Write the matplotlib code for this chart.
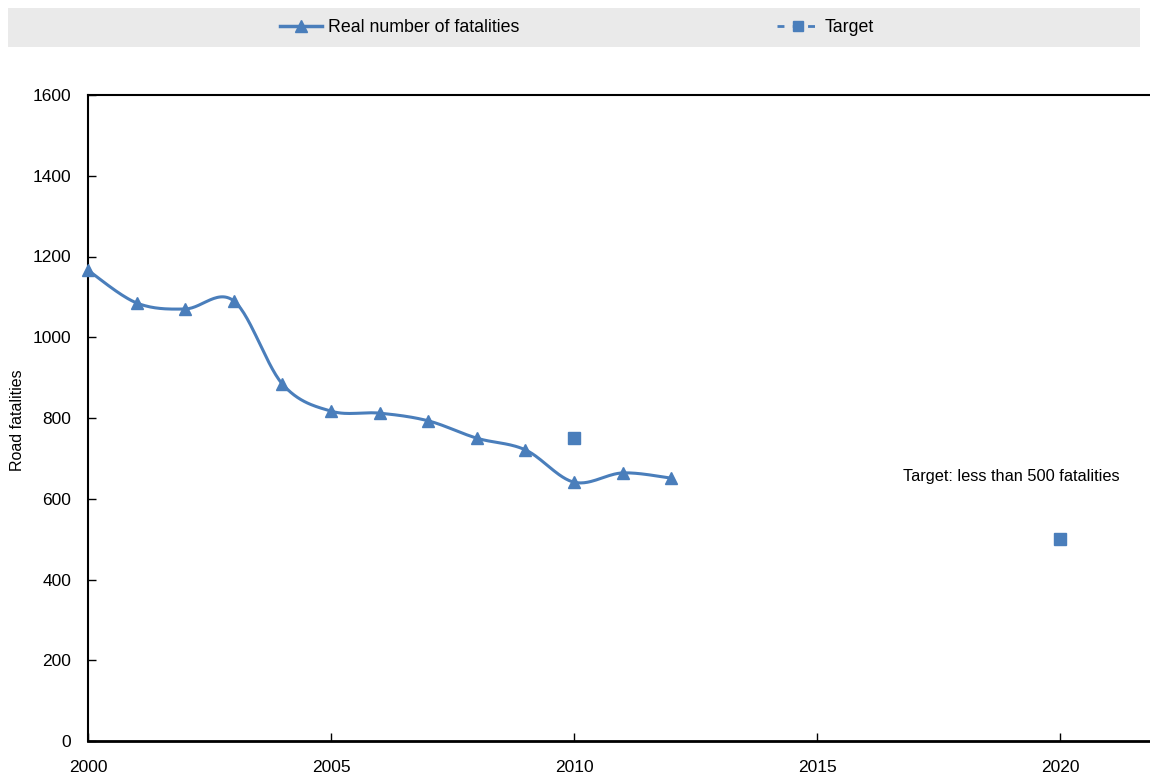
import numpy as np
import matplotlib
matplotlib.use('Agg')
import matplotlib.pyplot as plt
from matplotlib.patches import Rectangle
from matplotlib.lines import Line2D

years = [2000, 2001, 2002, 2003, 2004, 2005, 2006, 2007, 2008, 2009, 2010, 2011, 2012]
fatalities = [1166, 1085, 1070, 1090, 884, 817, 812, 793, 750, 721, 641, 664, 651]
target_years = [2010, 2020]
target_vals = [750, 500]
xticks = [2000, 2005, 2010, 2015, 2020]
yticks = [0, 200, 400, 600, 800, 1000, 1200, 1400, 1600]

BLUE = '#4a7ebb'
FONT = ['Liberation Sans', 'DejaVu Sans']
plt.rcParams['font.family'] = FONT


def smooth(x, y, n=30):
    # Catmull-Rom curve through the points (Excel-style smoothed line)
    p = np.column_stack([x, y]).astype(float)
    p = np.vstack([p[0], p, p[-1]])
    out = []
    for i in range(1, len(p) - 2):
        p0, p1, p2, p3 = p[i - 1], p[i], p[i + 1], p[i + 2]
        c1 = p1 + (p2 - p0) / 6
        c2 = p2 - (p3 - p1) / 6
        t = np.linspace(0, 1, n)[:, None]
        seg = (1 - t) ** 3 * p1 + 3 * (1 - t) ** 2 * t * c1 + 3 * (1 - t) * t ** 2 * c2 + t ** 3 * p2
        out.append(seg if i == 1 else seg[1:])
    out = np.vstack(out)
    return out[:, 0], out[:, 1]


fig = plt.figure(figsize=(11.5, 7.76), dpi=100)
ax = fig.add_axes([88 / 1150, 1 - 741 / 776, 1 - 88 / 1150, (741 - 95) / 776])

sx, sy = smooth(years, fatalities)
ax.plot(sx, sy, color=BLUE, lw=2.2, zorder=3)
ax.plot(years, fatalities, ls='none', marker='^', ms=9, color=BLUE, zorder=4, clip_on=False)
ax.plot(target_years, target_vals, ls='none', marker='s', ms=8, color=BLUE, zorder=4)

ax.text(2016.77, 656, 'Target: less than 500 fatalities', fontsize=11.8, va='center', ha='left')

ax.set_xlim(2000, 2021.85)
ax.set_ylim(0, 1600)
ax.set_xticks(xticks)
ax.set_yticks(yticks)
ax.tick_params(direction='in', length=6, width=1, pad=12, labelsize=12.5)
ax.tick_params(axis='x', pad=14)
ax.spines['right'].set_visible(False)
for s in ['left', 'top']:
    ax.spines[s].set_linewidth(1.5)
ax.spines['bottom'].set_linewidth(2)
fig.text(18 / 1150, 1 - 420 / 776, 'Road fatalities', fontsize=11.5, rotation=90, ha='center', va='center')

# legend band
fig.patches.append(Rectangle((8 / 1150, 1 - 47 / 776), 1132 / 1150, 39 / 776,
                             transform=fig.transFigure, facecolor='#eaeaea', edgecolor='none', zorder=0))
h1 = Line2D([], [], color=BLUE, lw=2.5, marker='^', ms=8)
h2 = Line2D([], [], color=BLUE, lw=2, ls='--', dashes=(2.5, 3), marker='s', ms=7)
leg = fig.legend([h1, h2], ['Real number of fatalities', 'Target'], loc='center',
                 bbox_to_anchor=(577 / 1150, 1 - 27.5 / 776), ncol=2, frameon=False,
                 columnspacing=14.5, handlelength=2.4, handletextpad=0.3,
                 prop={'size': 12.8})

fig.savefig('out.png', dpi=100)
